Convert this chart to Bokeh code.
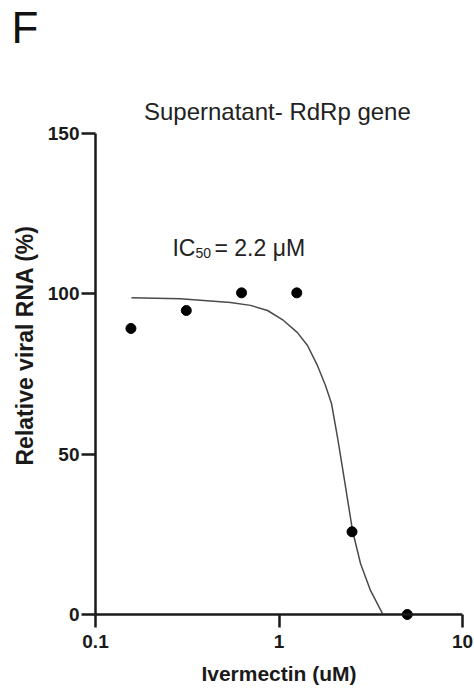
from bokeh.plotting import figure
from bokeh.models import Label, FixedTicker, Range1d, Span, Title
from bokeh.embed import file_html
from bokeh.resources import INLINE

# --- data ---
dose_um = [0.156, 0.3125, 0.625, 1.25, 2.5, 5.0]
rna_pct = [89.2, 94.8, 100.3, 100.3, 25.8, 0.0]

# fitted dose-response curve
fit_x = [0.157, 0.290, 0.544, 0.699, 0.866, 1.058, 1.261, 1.430, 1.621,
         1.792, 1.932, 2.084, 2.275, 2.515, 2.781, 3.152, 3.664]
fit_y = [98.8, 98.5, 97.3, 96.4, 94.8, 91.7, 87.9, 83.9, 77.6,
         71.4, 65.8, 55.2, 41.8, 26.2, 15.9, 7.5, 0.3]

x_ticks = [0.1, 1, 10]
x_tick_labels = ["0.1", "1", "10"]
y_ticks = [0, 50, 100, 150]

FONT = "Liberation Sans"
INK = "#1a1a1a"
TXT = "#222222"

# frame: x 0.1..10 ; y axis runs 0..150, frame padded a little below 0
# (so the dot at 0 is whole) and above 150 (room for the chart title)
p = figure(width=474, height=688, x_axis_type="log",
           x_range=Range1d(0.1, 10), y_range=Range1d(-3.12, 174.95),
           output_backend="svg", toolbar_location=None,
           min_border_left=95, min_border_right=12,
           min_border_top=53, min_border_bottom=64)

# panel letter
p.title.text = "F"
p.title.align = "left"
p.title.offset = -84
p.title.vertical_align = "top"
p.title.standoff = 0
p.title.text_font = FONT
p.title.text_font_style = "normal"
p.title.text_font_size = "44px"
p.title.text_color = "#111111"

# y axis label (as a side title so it can sit where the original has it)
p.add_layout(Title(text="Relative viral RNA (%)", align="left", offset=159,
                   standoff=14, text_font=FONT, text_font_style="bold",
                   text_font_size="23px", text_color=INK), "left")

p.outline_line_color = None
p.grid.visible = False
p.background_fill_color = "white"
p.border_fill_color = "white"

p.yaxis.bounds = (0, 150)
p.xaxis.ticker = FixedTicker(ticks=x_ticks)
p.yaxis.ticker = FixedTicker(ticks=y_ticks)
p.xaxis.major_label_overrides = {t: l for t, l in zip(x_ticks, x_tick_labels)}

for ax in (p.xaxis, p.yaxis):
    ax.axis_line_width = 2.5
    ax.axis_line_color = INK
    ax.major_tick_line_width = 2.5
    ax.major_tick_line_color = INK
    ax.minor_tick_out = 0
    ax.minor_tick_in = 0
    ax.major_label_text_font = FONT
    ax.major_label_text_font_style = "bold"
    ax.major_label_text_font_size = "19px"
    ax.major_label_text_color = INK
    ax.axis_label_text_font = FONT
    ax.axis_label_text_font_style = "bold"
    ax.axis_label_text_font_size = "21px"
    ax.axis_label_text_color = INK

p.yaxis.major_tick_out = 14
p.yaxis.major_tick_in = 0
p.yaxis.major_label_standoff = 2

# x axis: spine drawn at y = 0, ticks reach below it past the frame edge
p.xaxis.axis_line_color = None
p.xaxis.major_tick_out = 3
p.xaxis.major_tick_in = 10
p.xaxis.major_label_standoff = 7
p.xaxis.axis_label = "Ivermectin (uM)"
p.xaxis.axis_label_standoff = 11
p.add_layout(Span(location=0, dimension="width", line_color=INK, line_width=2.5))

p.line(fit_x, fit_y, line_color="#4a4a4a", line_width=1.5)
p.scatter(dose_um, rna_pct, size=10, color="black")

# chart title
p.add_layout(Label(x=0.98, y=156.9, text="Supernatant- RdRp gene",
                   text_align="center", text_baseline="alphabetic",
                   text_font=FONT, text_font_size="24px", text_color=TXT))

# IC50 annotation
ic_x, ic_y = 0.2627, 114.4
p.add_layout(Label(x=ic_x, y=ic_y, text="IC", text_font=FONT,
                   text_font_size="23px", text_color=TXT,
                   text_baseline="alphabetic"))
p.add_layout(Label(x=ic_x, y=ic_y, x_offset=23, y_offset=-5, text="50",
                   text_font=FONT, text_font_size="14px", text_color=TXT,
                   text_baseline="alphabetic"))
p.add_layout(Label(x=ic_x, y=ic_y, x_offset=42, text="= 2.2 μM",
                   text_font=FONT, text_font_size="23px", text_color=TXT,
                   text_baseline="alphabetic"))

open("out.html", "w").write(file_html(p, INLINE))
